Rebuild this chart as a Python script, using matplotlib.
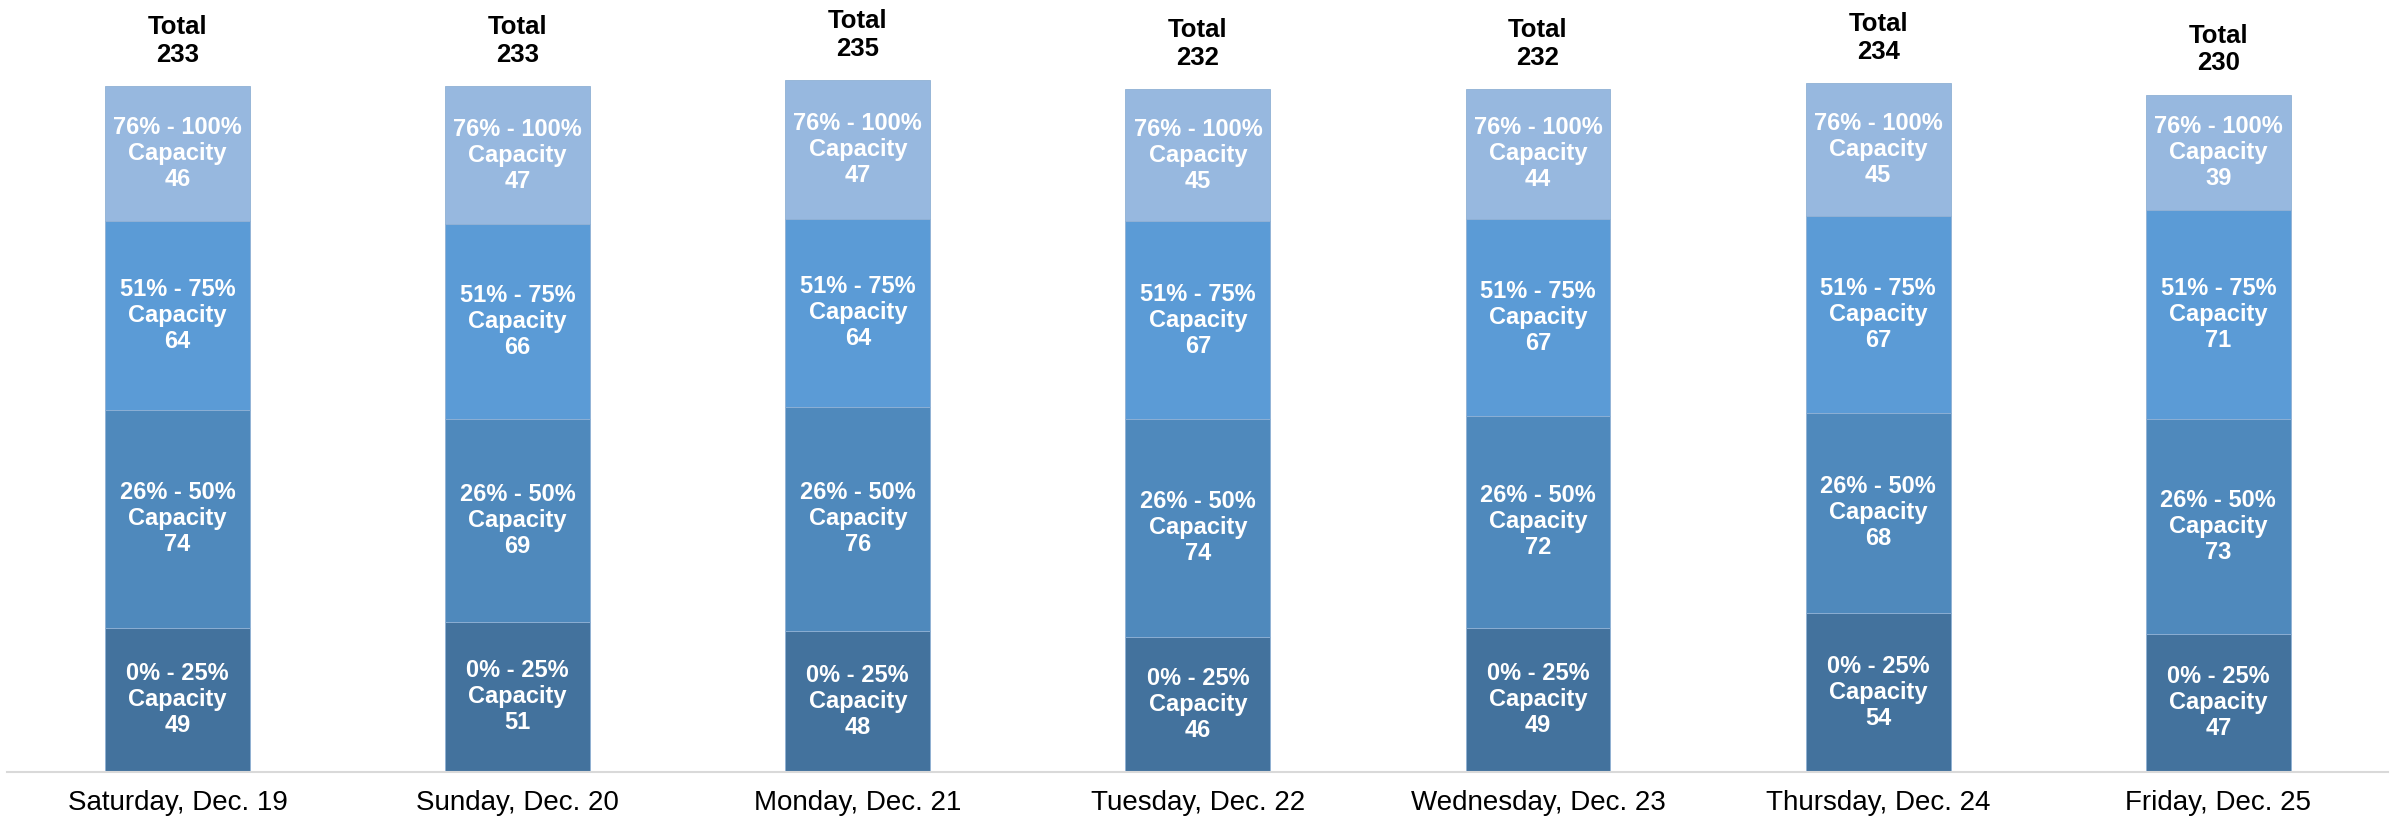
import matplotlib
matplotlib.use("Agg")
import matplotlib.pyplot as plt
import numpy as np

days = ["Saturday, Dec. 19", "Sunday, Dec. 20", "Monday, Dec. 21", "Tuesday, Dec. 22",
        "Wednesday, Dec. 23", "Thursday, Dec. 24", "Friday, Dec. 25"]
series_names = ["0% - 25%\nCapacity", "26% - 50%\nCapacity", "51% - 75%\nCapacity", "76% - 100%\nCapacity"]
cap_0_25 = [49, 51, 48, 46, 49, 54, 47]
cap_26_50 = [74, 69, 76, 74, 72, 68, 73]
cap_51_75 = [64, 66, 64, 67, 67, 67, 71]
cap_76_100 = [46, 47, 47, 45, 44, 45, 39]
colors = ["#43729D", "#4F89BC", "#5B9BD6", "#97B8DF"]

plt.rcParams['font.family'] = ['Liberation Sans', 'DejaVu Sans']

W, H = 2392, 824
fig = plt.figure(figsize=(W / 100, H / 100), dpi=100)
base_px = 772
ax = fig.add_axes([7.4 / W, 1 - base_px / H, 2381 / W, base_px / H])

x = np.arange(len(days))
series = [cap_0_25, cap_26_50, cap_51_75, cap_76_100]
bottom = np.zeros(len(days))
for name, vals, c in zip(series_names, series, colors):
    vals = np.array(vals)
    ax.bar(x, vals, 0.426, bottom=bottom, color=c, edgecolor="#8FB0D4", linewidth=0.6)
    for xi, b, v in zip(x, bottom, vals):
        ax.text(xi, b + v / 2, f"{name}\n{v}", ha="center", va="center", color="white",
                fontsize=17, fontweight="bold", linespacing=1.17)
    bottom = bottom + vals

for xi, t in zip(x, bottom):
    ax.annotate(f"Total\n{int(t)}", (xi, t), xytext=(0, 14), textcoords="offset points",
                ha="center", va="bottom", fontsize=18.5, fontweight="bold", color="black",
                linespacing=1.2)

ax.set_xlim(-0.5, len(days) - 0.5)
ax.set_ylim(0, base_px / 2.944)
ax.set_xticks(x)
ax.set_xticklabels(days, fontsize=20)
ax.tick_params(axis="x", length=0, pad=13)
ax.set_yticks([])
for s in ["top", "right", "left"]:
    ax.spines[s].set_visible(False)
ax.spines["bottom"].set_color("#D9D9D9")
ax.spines["bottom"].set_linewidth(1.5)

fig.savefig("out.png", dpi=100)
